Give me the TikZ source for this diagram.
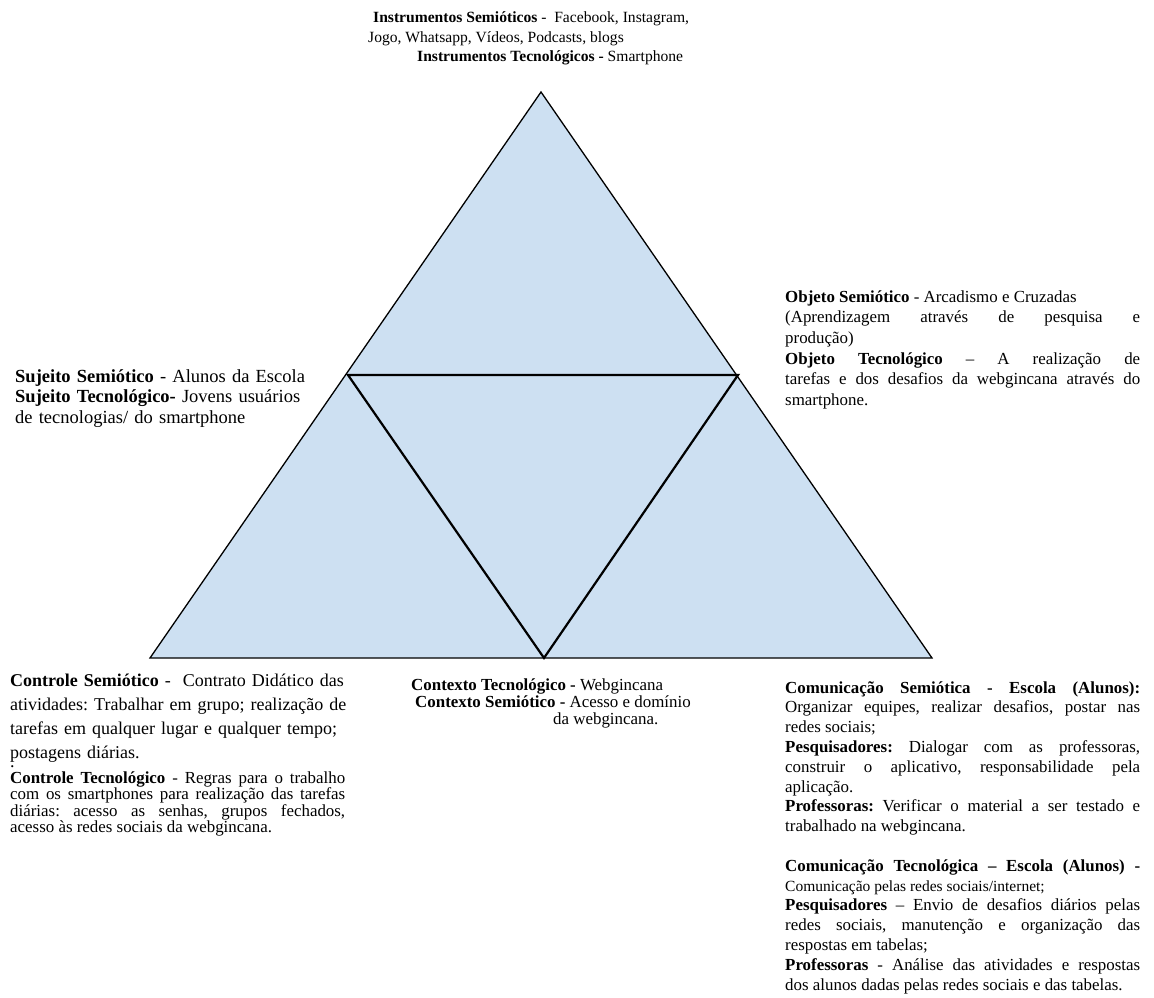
\documentclass[tikz,border=0pt]{standalone}
\usepackage{fontspec}
\usetikzlibrary{calc}
\setmainfont{Liberation Serif}
\frenchspacing
\definecolor{trifill}{RGB}{205,224,242}
\newcommand\fsBig{\fontsize{18.5}{20.5}\selectfont}
\newcommand\fsMid{\fontsize{16.9}{19.5}\selectfont}
\newcommand\fsTop{\fontsize{15.6}{19.5}\selectfont}
\begin{document}
\begin{tikzpicture}[x=1pt,y=-1pt,
  oneline/.style={anchor=base west,inner sep=0pt},
  block/.style={anchor=base west,inner sep=0pt,align=justify},
  lblock/.style={anchor=base west,inner sep=0pt,align=left},
  outertri/.style={draw=black,fill=trifill,line width=1.3pt,line join=miter},
  innertri/.style={draw=black,line width=2.2pt,line join=miter}]
\useasboundingbox[fill=white] (0,0) rectangle (1154,998);

% triangle
\coordinate (A) at (541,92);
\coordinate (B) at (150,658);
\coordinate (C) at (932,658);
\coordinate (AB) at (348,375);
\coordinate (AC) at (738,375);
\coordinate (BC) at (544,658);
\path[outertri] (A) -- (B) -- (C) -- cycle;
\path[innertri] (AB) -- (AC) -- (BC) -- cycle;

% top
\node[oneline,font=\fsTop] (t1) at (373,23) {\textbf{Instrumentos Semióticos} -\ \ Facebook, Instagram,};
\node[oneline,font=\fsTop] (t2) at (368,43) {Jogo, Whatsapp, Vídeos, Podcasts, blogs};
\node[oneline,font=\fsTop] (t3) at (417,62) {\textbf{Instrumentos Tecnológicos -} Smartphone};

% sujeito
\node[lblock,font=\fsBig,text width=320pt] (suj) at (15,382)
 {\textbf{Sujeito Semiótico} - Alunos da Escola\\
  \textbf{Sujeito Tecnológico-} Jovens usuários\\
  de tecnologias/ do smartphone};

% objeto
\node[block,font=\fontsize{16.9}{20.7}\selectfont,text width=355pt] (obj) at (785,302)
 {\textbf{Objeto Semiótico} - Arcadismo e Cruzadas\par
  (Aprendizagem através de pesquisa e\linebreak produção)\par
  \textbf{Objeto Tecnológico} -- A realização de\linebreak
  tarefas e dos desafios da webgincana através do\linebreak
  smartphone.};

% controle
\node[lblock,font=\fontsize{18}{24}\selectfont,text width=370pt] (cs) at (10,686)
 {\textbf{Controle Semiótico} -\ \ Contrato Didático das\\
  atividades: Trabalhar em grupo; realização de\\
  tarefas em qualquer lugar e qualquer tempo;\\
  postagens diárias.\\[-15pt]
  .};
\node[block,font=\fontsize{16.9}{16.5}\selectfont,text width=335pt] (ct) at (10,783)
 {\textbf{Controle Tecnológico} - Regras para o trabalho\linebreak
  com os smartphones para realização das tarefas\linebreak
  diárias: acesso as senhas, grupos fechados,\linebreak
  acesso às redes sociais da webgincana.};

% contexto
\node[oneline,font=\fsMid] (cx1) at (411,690) {\textbf{Contexto Tecnológico -} Webgincana};
\node[oneline,font=\fsMid] (cx2) at (415,707) {\textbf{Contexto Semiótico -} Acesso e domínio};
\node[oneline,font=\fsMid] (cx3) at (553,724) {da webgincana.};

% comunicacao
\node[block,font=\fontsize{16.9}{19.8}\selectfont,text width=355pt] (com) at (785,693)
 {\textbf{Comunicação Semiótica - Escola (Alunos):}\linebreak
  Organizar equipes, realizar desafios, postar nas\linebreak
  redes sociais;\par
  \textbf{Pesquisadores:} Dialogar com as professoras,\linebreak
  construir o aplicativo, responsabilidade pela\linebreak
  aplicação.\par
  \textbf{Professoras:} Verificar o material a ser testado e\linebreak
  trabalhado na webgincana.\par
  \vspace{19.8pt}
  \textbf{Comunicação Tecnológica -- Escola (Alunos) -}\linebreak
  {\fontsize{15.5}{19.8}\selectfont Comunicação pelas redes sociais/internet;}\par
  \textbf{Pesquisadores} -- Envio de desafios diários pelas\linebreak
  redes sociais, manutenção e organização das\linebreak
  respostas em tabelas;\par
  \textbf{Professoras} - Análise das atividades e respostas\linebreak
  dos alunos dadas pelas redes sociais e das tabelas.};
\end{tikzpicture}
\end{document}
